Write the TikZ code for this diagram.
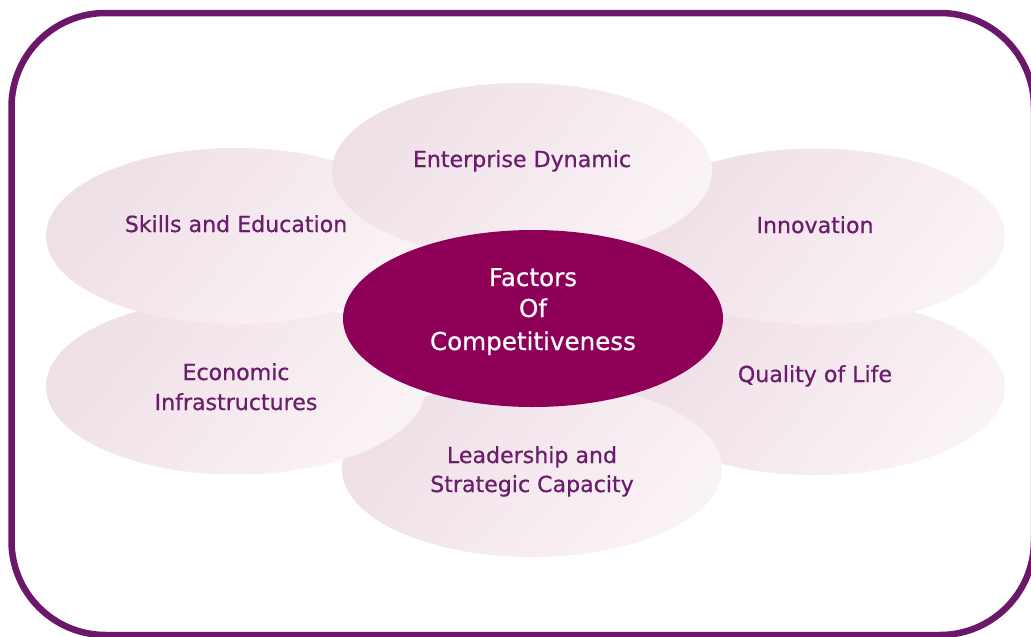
\documentclass[tikz,border=0pt]{standalone}
\usepackage{fontspec}
\setmainfont{DejaVu Sans}
\newfontfamily\petalfont{DejaVu Sans}[FakeBold=0.6]
\usetikzlibrary{shapes.geometric}
\definecolor{framepurple}{HTML}{6B186B}
\definecolor{corefill}{HTML}{8E0058}
\definecolor{labelpurple}{HTML}{6A1D6A}
\definecolor{petalL}{HTML}{EFDFE7}
\definecolor{petalR}{HTML}{FAF3F6}
\begin{document}
\begin{tikzpicture}[x=1pt,y=-1pt,
  petal/.style={ellipse, minimum width=380pt, minimum height=176pt, inner sep=0pt,
    draw=none, top color=petalL, bottom color=petalR, shading angle=50},
  corestyle/.style={ellipse, minimum width=380pt, minimum height=177pt, inner sep=0pt,
    draw=none, fill=corefill},
  lbl/.style={anchor=base, inner sep=0pt, text=labelpurple, font=\petalfont\fontsize{22.1}{30}\selectfont},
  corelbl/.style={anchor=base, inner sep=0pt, text=white, font=\petalfont\fontsize{24.6}{32}\selectfont}]
\useasboundingbox (0,0) rectangle (1031,637);
\fill[white] (0,0) rectangle (1031,637);
% frame
\draw[framepurple, line width=6.5pt, rounded corners=94pt] (11.5,13) rectangle (1034,635);
% petals (bottom to top)
\node[petal] (qol) at (815,387) {};
\node[petal] (lea) at (532,469) {};
\node[petal] (eco) at (236,386.5) {};
\node[petal] (skl) at (236,236) {};
\node[petal] (inn) at (815,236.5) {};
\node[petal] (ent) at (522,171) {};
\node[corestyle] (core) at (533,318.5) {};
% labels
\node[lbl] (entT) at (522,167) {Enterprise Dynamic};
\node[lbl] (sklT) at (236,232) {Skills and Education};
\node[lbl] (innT) at (815,233) {Innovation};
\node[lbl] (ecoA) at (236,380) {Economic};
\node[lbl] (ecoB) at (236,410) {Infrastructures};
\node[lbl] (qolT) at (815,382) {Quality of Life};
\node[lbl] (leaA) at (532,463) {Leadership and};
\node[lbl] (leaB) at (532,492) {Strategic Capacity};
\node[corelbl] (coreA) at (533,286) {Factors};
\node[corelbl] (coreB) at (533,317) {Of};
\node[corelbl] (coreC) at (533,350) {Competitiveness};
\end{tikzpicture}
\end{document}
